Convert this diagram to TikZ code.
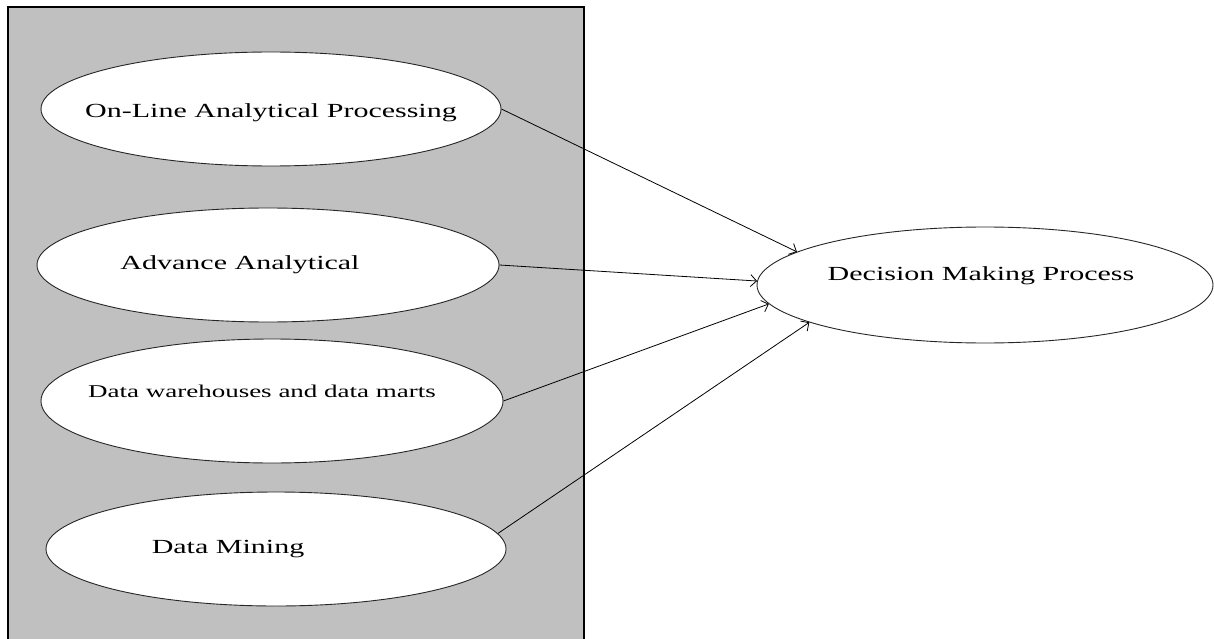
\documentclass[tikz,border=0pt]{standalone}
\usepackage{fontspec}
\setmainfont{Liberation Serif}
\newfontfamily\widefont[FakeStretch=1.5]{Liberation Serif}
\usetikzlibrary{shapes.geometric,arrows.meta}
\definecolor{panelgray}{HTML}{C0C0C0}
\tikzset{
  oval/.style={ellipse, draw=black!85, line width=0.9pt, fill=white, inner sep=0pt},
  lbl/.style={anchor=base, inner sep=0pt, font=\widefont\fontsize{20}{24}\selectfont},
  conn/.style={line width=0.8pt, -{Straight Barb[length=6pt,width=12pt]}},
}
\begin{document}
\begin{tikzpicture}[x=1pt,y=-1pt]
\useasboundingbox (0,0) rectangle (1214,639);
\fill[white] (0,0) rectangle (1214,639);
\draw[fill=panelgray, line width=1.6pt] (8,7) rectangle (584,645);
\node[oval, minimum width=460pt, minimum height=114pt] (e1) at (271,109) {};
\node[oval, minimum width=462pt, minimum height=114pt] (e2) at (268,265) {};
\node[oval, minimum width=462pt, minimum height=124pt] (e3) at (272,401) {};
\node[oval, minimum width=460pt, minimum height=114pt] (e4) at (276,549) {};
\node[oval, minimum width=456pt, minimum height=116pt] (dm) at (985,285) {};
\node[lbl] (t1) at (271,118) {On-Line Analytical Processing};
\node[lbl] (t2) at (240,269) {Advance Analytical};
\node[lbl, font=\widefont\fontsize{18}{22}\selectfont] (t3) at (262,397) {Data warehouses and data marts};
\node[lbl] (t4) at (228,553) {Data Mining};
\node[lbl] (t5) at (981,280) {Decision Making Process};
\draw[conn] (e1.east) -- (dm.170.8);
\draw[conn] (e2.east) -- (dm.179);
\draw[conn] (e3.east) -- (dm.185.3);
\draw[conn] (e4.4) -- (dm.192.7);
\end{tikzpicture}
\end{document}
